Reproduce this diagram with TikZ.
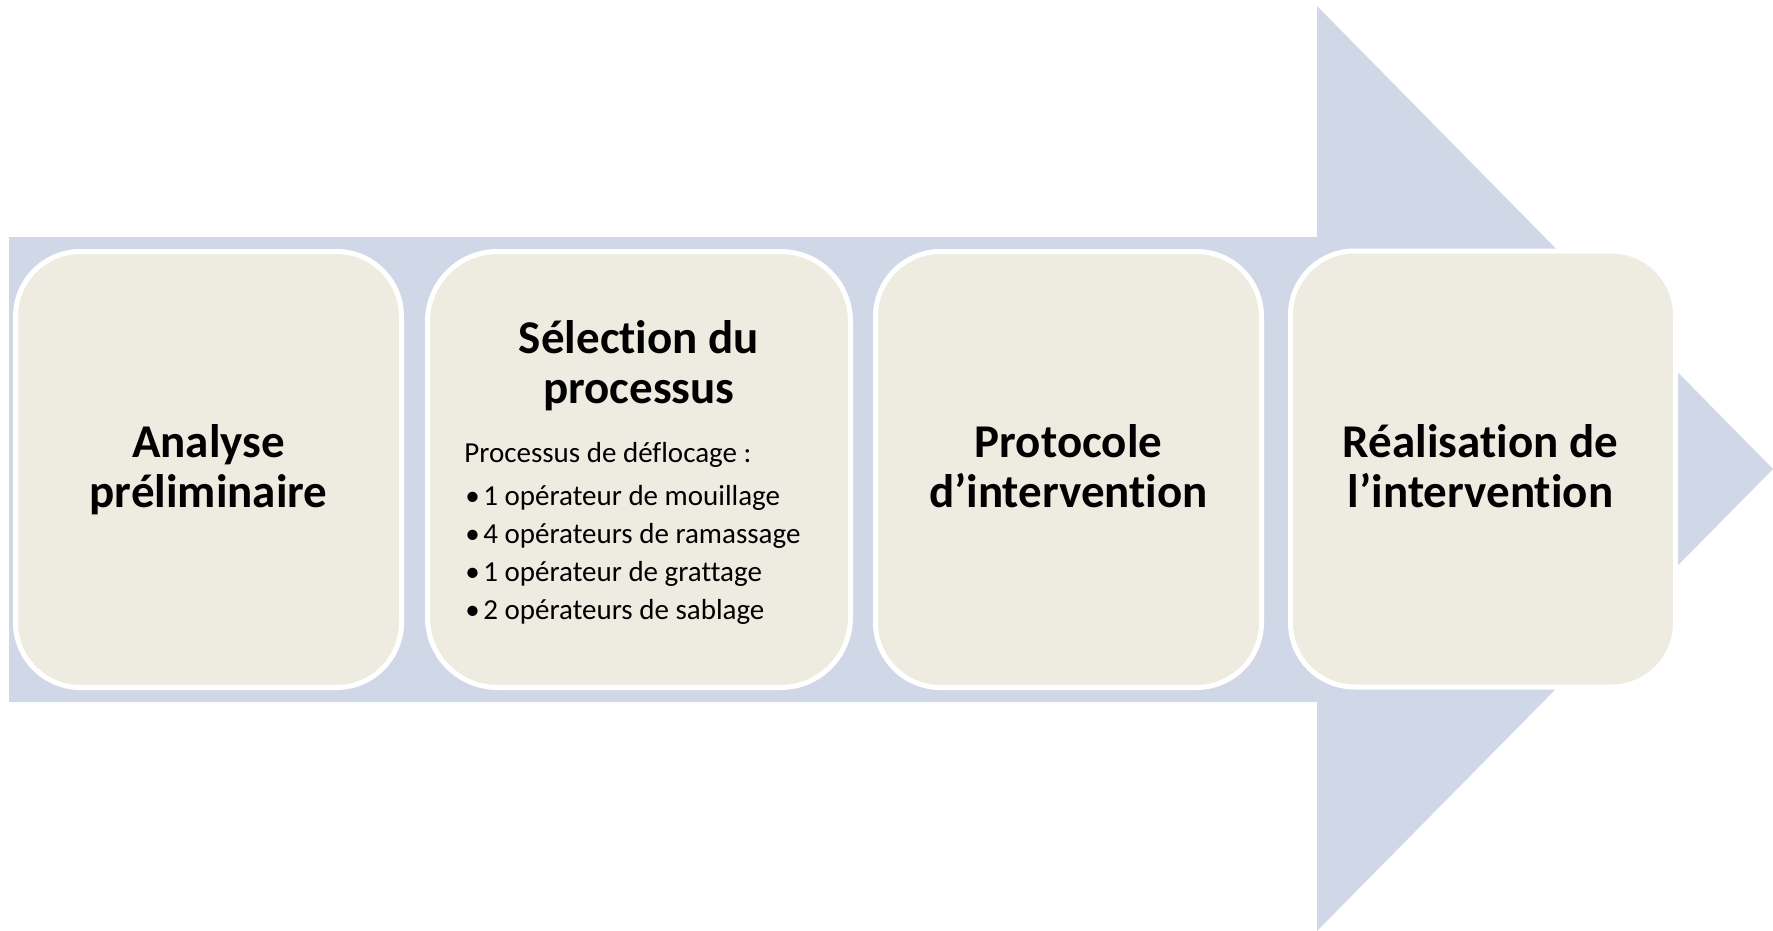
\documentclass[tikz,border=0pt]{standalone}
\usepackage{fontspec}
\setmainfont{Carlito}[Ligatures={NoCommon}]
\definecolor{arrowfill}{HTML}{D0D8E8}
\definecolor{boxfill}{HTML}{EEECE1}
\begin{document}
\begin{tikzpicture}[x=0.5pt,y=-0.5pt,
  stepbox/.style={draw=white, line width=2.5pt, fill=boxfill, minimum height=218pt, inner sep=0pt},
  titletext/.style={font=\bfseries\fontsize{23.5pt}{25pt}\selectfont, anchor=base, inner sep=0pt},
  bodytext/.style={font=\fontsize{14.5pt}{19pt}\selectfont, anchor=base west, inner sep=0pt}]
\useasboundingbox (0,0) rectangle (1773,931);
% big background arrow
\fill[arrowfill] (9,237) -- (1317,237) -- (1317,6) -- (1773,469) -- (1317,931) -- (1317,702) -- (9,702) -- cycle;
% step boxes
\node[stepbox, minimum width=193pt, rounded corners=32.5pt] (b1) at (208.5,469.5) {};
\node[stepbox, minimum width=211.5pt, rounded corners=35pt] (b2) at (639,469.5) {};
\node[stepbox, minimum width=193pt, rounded corners=32.5pt] (b3) at (1068.5,469.5) {};
\node[stepbox, minimum width=192.5pt, rounded corners=32pt] (b4) at (1483,469) {};
% titles
\node[titletext] (t1a) at (208.5,457) {Analyse};
\node[titletext] (t1b) at (208.5,507) {préliminaire};
\node[titletext] (t2a) at (639,353) {Sélection du};
\node[titletext] (t2b) at (639,403) {processus};
\node[titletext] (t3a) at (1068.5,457) {Protocole};
\node[titletext] (t3b) at (1068.5,507) {d’intervention};
\node[titletext] (t4a) at (1480.5,457) {Réalisation de};
\node[titletext] (t4b) at (1480.5,507) {l’intervention};
% body of box 2
\node[bodytext] (p0) at (464,462) {Processus de déflocage :};
\node[bodytext] (p1) at (465,505) {\makebox[9pt][l]{•}1 opérateur de mouillage};
\node[bodytext] (p2) at (465,543) {\makebox[9pt][l]{•}4 opérateurs de ramassage};
\node[bodytext] (p3) at (465,581) {\makebox[9pt][l]{•}1 opérateur de grattage};
\node[bodytext] (p4) at (465,619) {\makebox[9pt][l]{•}2 opérateurs de sablage};
\end{tikzpicture}
\end{document}
